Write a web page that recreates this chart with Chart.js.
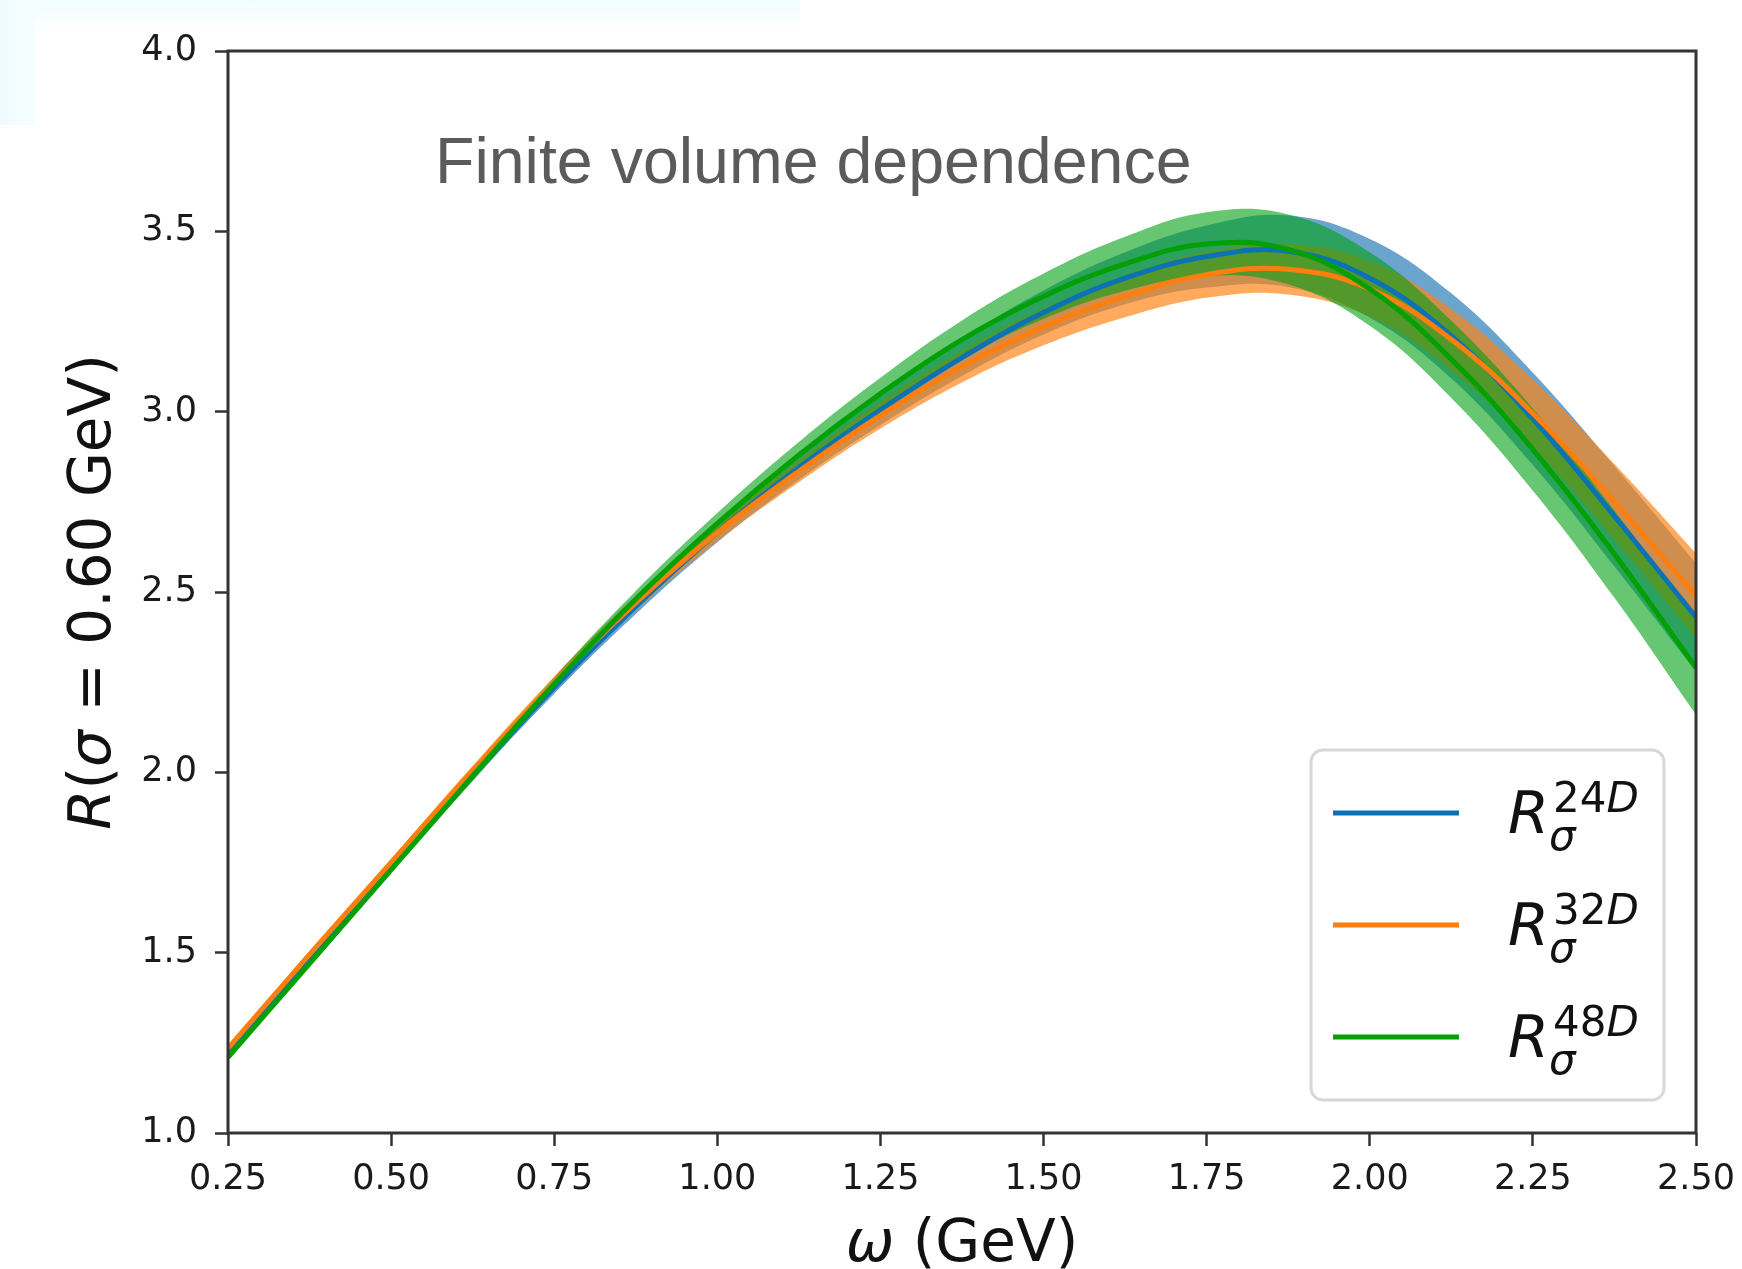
<!DOCTYPE html>
<html>
<head>
<meta charset="utf-8">
<script src="https://cdn.jsdelivr.net/npm/chart.js@4.4.1/dist/chart.umd.min.js"></script>
<style>
  html, body { margin: 0; padding: 0; background: #fff; }
  #wrap { position: relative; width: 1742px; height: 1269px; overflow: hidden; }
  .tint-top { position: absolute; left: 0; top: 0; width: 800px; height: 30px;
              background: linear-gradient(#f0fdff, #f8feff 60%, rgba(255,255,255,0)); }
  .tint-left { position: absolute; left: 0; top: 0; width: 35px; height: 125px;
               background: linear-gradient(90deg, #eefcff, #f6feff); }
  canvas { position: absolute; left: 0; top: 0; }
</style>
</head>
<body>
<div id="wrap">
  <div class="tint-top"></div>
  <div class="tint-left"></div>
  <canvas id="chart" width="1742" height="1269"></canvas>
</div>
<script>
// omega grid (GeV)
const omega = [0.25, 0.375, 0.5, 0.625, 0.75, 0.875, 1.0, 1.125, 1.25, 1.375,
               1.5, 1.625, 1.75, 1.875, 2.0, 2.125, 2.25, 2.375, 2.5];

// central values and half-widths of the bands
const R24D   = [1.225, 1.48, 1.735, 1.99, 2.235, 2.46, 2.665, 2.845, 3.005, 3.15,
                3.275, 3.37, 3.43, 3.445, 3.37, 3.21, 2.98, 2.71, 2.43];
const err24D = [0.005, 0.007, 0.01, 0.013, 0.017, 0.021, 0.027, 0.034, 0.042, 0.051,
                0.061, 0.072, 0.086, 0.099, 0.109, 0.118, 0.128, 0.139, 0.15];

const R32D   = [1.235, 1.495, 1.75, 2.005, 2.25, 2.47, 2.665, 2.835, 2.99, 3.125,
                3.235, 3.32, 3.38, 3.395, 3.34, 3.2, 2.995, 2.75, 2.49];
const err32D = [0.005, 0.007, 0.01, 0.013, 0.016, 0.02, 0.025, 0.031, 0.037, 0.044,
                0.051, 0.058, 0.064, 0.07, 0.077, 0.085, 0.094, 0.105, 0.117];

const R48D   = [1.21, 1.47, 1.73, 1.99, 2.245, 2.48, 2.69, 2.88, 3.05, 3.2,
                3.32, 3.41, 3.465, 3.45, 3.34, 3.145, 2.895, 2.605, 2.29];
const err48D = [0.006, 0.008, 0.011, 0.014, 0.018, 0.023, 0.029, 0.036, 0.044, 0.053,
                0.063, 0.075, 0.088, 0.097, 0.102, 0.107, 0.114, 0.121, 0.13];

const xTicks = { min: 0.25, max: 2.5, step: 0.25 };
const yTicks = { min: 1.0, max: 4.0, step: 0.5 };

const legendLabels = ['24D', '32D', '48D'];
const titleText = 'Finite volume dependence';

const series = [
  { vals: R24D, err: err24D, line: '#0b72b5', band: 'rgba(31,119,180,0.66)', bandOrder: 9, lineOrder: 3 },
  { vals: R32D, err: err32D, line: '#ff7f0e', band: 'rgba(255,130,18,0.68)', bandOrder: 8, lineOrder: 2 },
  { vals: R48D, err: err48D, line: '#02a002', band: 'rgba(0,160,20,0.6)',   bandOrder: 7, lineOrder: 1 },
];

const datasets = [];
series.forEach(s => {
  const pts = f => omega.map((x, i) => ({ x, y: f(i) }));
  datasets.push({ data: pts(i => s.vals[i] + s.err[i]), borderColor: 'rgba(0,0,0,0)', borderWidth: 1,
                  fill: false, order: s.bandOrder });
  datasets.push({ data: pts(i => s.vals[i] - s.err[i]), borderColor: 'rgba(0,0,0,0)', borderWidth: 1,
                  fill: '-1', backgroundColor: s.band, order: s.bandOrder });
  datasets.push({ data: pts(i => s.vals[i]), borderColor: s.line, borderWidth: 5,
                  fill: false, order: s.lineOrder });
});

// draw a sequence of differently styled text pieces
function drawRuns(ctx, runs, x, y, center) {
  let w = 0;
  runs.forEach(r => { ctx.font = r.f; r.w = ctx.measureText(r.t).width; w += r.w + (r.dx || 0); });
  let cx = center ? x - w / 2 : x;
  runs.forEach(r => {
    ctx.font = r.f;
    ctx.fillText(r.t, cx, y + (r.dy || 0));
    cx += r.w + (r.dx || 0);
  });
}

const DV = '"DejaVu Sans"';

const decor = {
  id: 'decor',
  afterDatasetsDraw(chart) {
    const { ctx, chartArea: a } = chart;
    ctx.save();

    // in-plot title
    ctx.fillStyle = '#5b5b5b';
    ctx.textBaseline = 'alphabetic';
    ctx.textAlign = 'left';
    ctx.font = '64.5px "Liberation Sans", Arial, sans-serif';
    ctx.fillText(titleText, a.left + 207, a.top + 132);

    // legend box
    const bx = a.right - 385, by = a.bottom - 383, bw = 353, bh = 350;
    ctx.beginPath();
    ctx.roundRect(bx, by, bw, bh, 12);
    ctx.fillStyle = 'rgba(255,255,255,0.85)';
    ctx.fill();
    ctx.lineWidth = 3;
    ctx.strokeStyle = '#d8d8d8';
    ctx.stroke();

    series.forEach((s, i) => {
      const base = by + 83 + i * 112;
      ctx.beginPath();
      ctx.moveTo(bx + 22, base - 20);
      ctx.lineTo(bx + 148, base - 20);
      ctx.lineWidth = 5;
      ctx.strokeStyle = s.line;
      ctx.stroke();

      ctx.fillStyle = '#111';
      ctx.textAlign = 'left';
      ctx.font = 'italic 59px ' + DV;
      ctx.fillText('R', bx + 197, base);
      const lab = legendLabels[i];
      drawRuns(ctx, [
        { t: lab.slice(0, 2), f: '42px ' + DV },
        { t: lab.slice(2), f: 'italic 42px ' + DV }
      ], bx + 242, base - 21, false);
      ctx.font = 'italic 42px ' + DV;
      ctx.fillText('σ', bx + 238, base + 17);
    });

    // frame
    ctx.strokeStyle = '#333';
    ctx.lineWidth = 3;
    ctx.strokeRect(a.left, a.top, a.right - a.left, a.bottom - a.top);
    ctx.restore();
  },
  afterDraw(chart) {
    const { ctx, chartArea: a } = chart;
    ctx.save();
    ctx.fillStyle = '#111';
    ctx.textBaseline = 'alphabetic';
    ctx.textAlign = 'left';
    // x axis title
    drawRuns(ctx, [
      { t: 'ω', f: 'italic 58px ' + DV },
      { t: ' (GeV)', f: '58px ' + DV }
    ], (a.left + a.right) / 2, 1261, true);
    // y axis title
    ctx.translate(110, (a.top + a.bottom) / 2);
    ctx.rotate(-Math.PI / 2);
    drawRuns(ctx, [
      { t: 'R', f: 'italic 58px ' + DV },
      { t: '(', f: '58px ' + DV },
      { t: 'σ', f: 'italic 58px ' + DV },
      { t: ' = ', f: '58px ' + DV },
      { t: '0.60 GeV)', f: '58px ' + DV }
    ], 0, 0, true);
    ctx.restore();
  }
};

const tickFont = { family: 'DejaVu Sans', size: 35 };

new Chart(document.getElementById('chart'), {
  type: 'line',
  data: { datasets },
  options: {
    responsive: false,
    animation: false,
    layout: { padding: { left: 0, top: 51, right: 46, bottom: 0 } },
    plugins: { legend: { display: false }, tooltip: { enabled: false } },
    elements: { point: { radius: 0 }, line: { tension: 0.4 } },
    scales: {
      x: {
        type: 'linear', min: xTicks.min, max: xTicks.max,
        afterFit: s => { s.height = 136; s.paddingLeft = 0; s.paddingRight = 0; },
        ticks: { stepSize: xTicks.step, callback: v => v.toFixed(2), font: tickFont, color: '#1a1a1a',
                 padding: 13, maxRotation: 0, autoSkip: false },
        grid: { drawOnChartArea: false, tickLength: 13, tickWidth: 2.5, tickColor: '#333' },
        border: { display: false }
      },
      y: {
        type: 'linear', min: yTicks.min, max: yTicks.max,
        afterFit: s => { s.width = 228; s.paddingTop = 0; s.paddingBottom = 0; },
        ticks: { stepSize: yTicks.step, callback: v => v.toFixed(1), font: tickFont, color: '#1a1a1a',
                 padding: 18, autoSkip: false },
        grid: { drawOnChartArea: false, tickLength: 13, tickWidth: 2.5, tickColor: '#333' },
        border: { display: false }
      }
    }
  },
  plugins: [decor]
});
</script>
</body>
</html>
